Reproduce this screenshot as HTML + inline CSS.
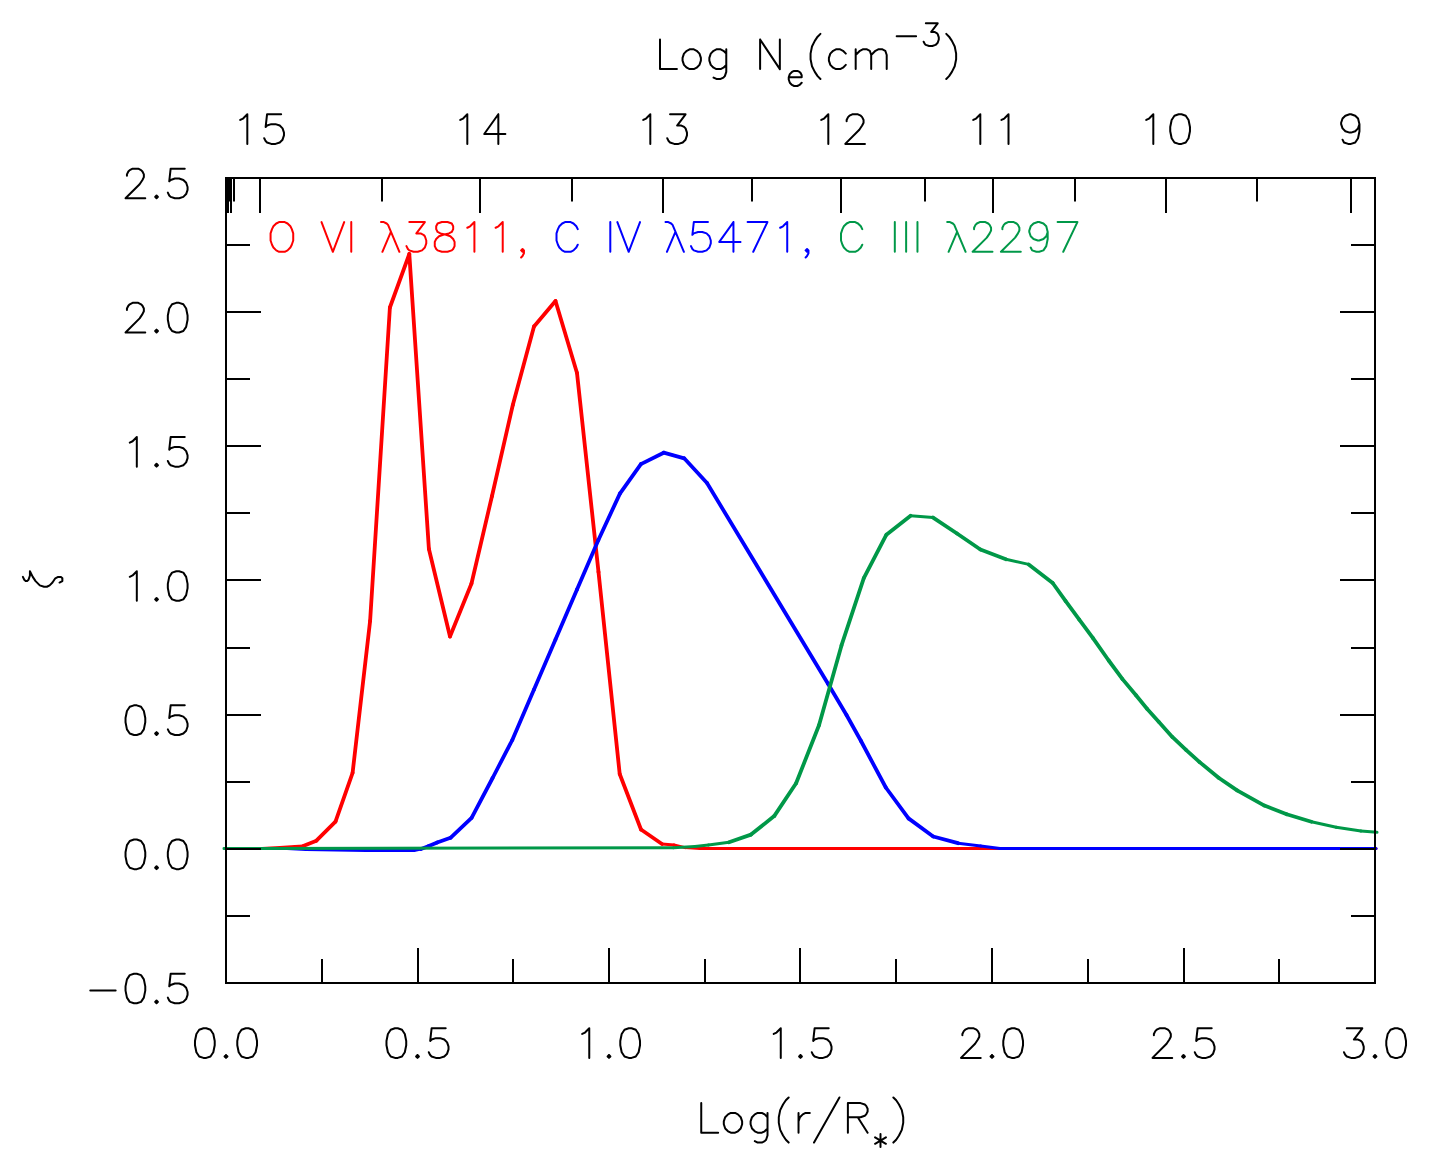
<!DOCTYPE html><html><head><meta charset="utf-8"><style>html,body{margin:0;padding:0;background:#fff;font-family:"Liberation Sans",sans-serif;}svg{display:block}</style></head><body>
<svg width="1454" height="1172" viewBox="0 0 1454 1172">
<rect width="1454" height="1172" fill="#fff"/>
<g stroke="#ff0000" stroke-linecap="round"><line x1="226.00" y1="848.50" x2="262.00" y2="848.50" stroke-width="3.00"/><line x1="262.00" y1="848.50" x2="280.00" y2="847.60" stroke-width="3.00"/><line x1="280.00" y1="847.60" x2="295.00" y2="846.40" stroke-width="3.00"/><line x1="295.00" y1="846.40" x2="303.20" y2="845.90" stroke-width="3.00"/><line x1="303.20" y1="845.90" x2="316.40" y2="840.70" stroke-width="3.80"/><line x1="316.40" y1="840.70" x2="335.50" y2="821.60" stroke-width="3.80"/><line x1="335.50" y1="821.60" x2="352.60" y2="772.80" stroke-width="3.80"/><line x1="352.60" y1="772.80" x2="370.10" y2="621.00" stroke-width="3.80"/><line x1="370.10" y1="621.00" x2="389.90" y2="307.50" stroke-width="3.80"/><line x1="389.90" y1="307.50" x2="409.30" y2="254.00" stroke-width="3.80"/><line x1="409.30" y1="254.00" x2="428.90" y2="549.00" stroke-width="3.80"/><line x1="428.90" y1="549.00" x2="450.00" y2="636.50" stroke-width="3.80"/><line x1="450.00" y1="636.50" x2="471.50" y2="583.50" stroke-width="3.80"/><line x1="471.50" y1="583.50" x2="492.00" y2="496.00" stroke-width="3.80"/><line x1="492.00" y1="496.00" x2="512.80" y2="405.00" stroke-width="3.80"/><line x1="512.80" y1="405.00" x2="534.00" y2="326.50" stroke-width="3.80"/><line x1="534.00" y1="326.50" x2="555.50" y2="301.00" stroke-width="3.80"/><line x1="555.50" y1="301.00" x2="577.00" y2="373.00" stroke-width="3.80"/><line x1="577.00" y1="373.00" x2="598.50" y2="572.00" stroke-width="3.80"/><line x1="598.50" y1="572.00" x2="619.70" y2="774.00" stroke-width="3.80"/><line x1="619.70" y1="774.00" x2="641.00" y2="829.50" stroke-width="3.80"/><line x1="641.00" y1="829.50" x2="662.00" y2="844.00" stroke-width="3.80"/><line x1="662.00" y1="844.00" x2="674.00" y2="845.00" stroke-width="3.00"/><line x1="674.00" y1="845.00" x2="685.00" y2="847.60" stroke-width="3.00"/><line x1="685.00" y1="847.60" x2="700.00" y2="848.50" stroke-width="3.00"/><line x1="700.00" y1="848.50" x2="1376.00" y2="848.50" stroke-width="3.00"/></g>
<g stroke="#0000ff" stroke-linecap="round"><line x1="226.00" y1="848.50" x2="287.00" y2="848.50" stroke-width="3.00"/><line x1="287.00" y1="848.50" x2="306.00" y2="849.50" stroke-width="3.00"/><line x1="306.00" y1="849.50" x2="366.00" y2="850.60" stroke-width="3.00"/><line x1="366.00" y1="850.60" x2="414.00" y2="850.60" stroke-width="3.00"/><line x1="414.00" y1="850.60" x2="421.00" y2="849.00" stroke-width="3.00"/><line x1="421.00" y1="849.00" x2="428.30" y2="846.30" stroke-width="3.80"/><line x1="428.30" y1="846.30" x2="437.20" y2="842.50" stroke-width="3.80"/><line x1="437.20" y1="842.50" x2="450.50" y2="837.80" stroke-width="3.80"/><line x1="450.50" y1="837.80" x2="471.60" y2="817.80" stroke-width="3.80"/><line x1="471.60" y1="817.80" x2="492.60" y2="778.00" stroke-width="3.80"/><line x1="492.60" y1="778.00" x2="512.30" y2="740.00" stroke-width="3.80"/><line x1="512.30" y1="740.00" x2="534.00" y2="689.60" stroke-width="3.80"/><line x1="534.00" y1="689.60" x2="555.50" y2="639.50" stroke-width="3.80"/><line x1="555.50" y1="639.50" x2="577.00" y2="589.50" stroke-width="3.80"/><line x1="577.00" y1="589.50" x2="598.40" y2="540.00" stroke-width="3.80"/><line x1="598.40" y1="540.00" x2="619.90" y2="493.60" stroke-width="3.80"/><line x1="619.90" y1="493.60" x2="640.90" y2="464.10" stroke-width="3.80"/><line x1="640.90" y1="464.10" x2="663.70" y2="452.70" stroke-width="3.80"/><line x1="663.70" y1="452.70" x2="684.20" y2="458.30" stroke-width="3.80"/><line x1="684.20" y1="458.30" x2="707.00" y2="483.00" stroke-width="3.80"/><line x1="707.00" y1="483.00" x2="828.00" y2="683.70" stroke-width="3.80"/><line x1="828.00" y1="683.70" x2="846.50" y2="715.00" stroke-width="3.80"/><line x1="846.50" y1="715.00" x2="861.00" y2="741.00" stroke-width="3.80"/><line x1="861.00" y1="741.00" x2="885.80" y2="787.50" stroke-width="3.80"/><line x1="885.80" y1="787.50" x2="908.50" y2="818.40" stroke-width="3.80"/><line x1="908.50" y1="818.40" x2="933.20" y2="836.50" stroke-width="3.80"/><line x1="933.20" y1="836.50" x2="958.00" y2="843.20" stroke-width="3.80"/><line x1="958.00" y1="843.20" x2="980.70" y2="846.00" stroke-width="3.00"/><line x1="980.70" y1="846.00" x2="1000.00" y2="848.50" stroke-width="3.00"/><line x1="1000.00" y1="848.50" x2="1376.00" y2="848.50" stroke-width="3.00"/></g>
<g stroke="#009848" stroke-linecap="round"><line x1="224.00" y1="848.50" x2="673.60" y2="847.80" stroke-width="3.00"/><line x1="673.60" y1="847.80" x2="695.00" y2="846.50" stroke-width="3.00"/><line x1="695.00" y1="846.50" x2="708.50" y2="845.00" stroke-width="3.00"/><line x1="708.50" y1="845.00" x2="729.00" y2="842.30" stroke-width="3.00"/><line x1="729.00" y1="842.30" x2="751.00" y2="834.60" stroke-width="3.80"/><line x1="751.00" y1="834.60" x2="774.20" y2="816.10" stroke-width="3.80"/><line x1="774.20" y1="816.10" x2="796.10" y2="783.30" stroke-width="3.80"/><line x1="796.10" y1="783.30" x2="819.00" y2="725.30" stroke-width="3.80"/><line x1="819.00" y1="725.30" x2="841.50" y2="645.40" stroke-width="3.80"/><line x1="841.50" y1="645.40" x2="863.80" y2="578.10" stroke-width="3.80"/><line x1="863.80" y1="578.10" x2="886.40" y2="534.70" stroke-width="3.80"/><line x1="886.40" y1="534.70" x2="910.60" y2="515.80" stroke-width="3.80"/><line x1="910.60" y1="515.80" x2="933.10" y2="517.60" stroke-width="3.00"/><line x1="933.10" y1="517.60" x2="957.00" y2="533.50" stroke-width="3.80"/><line x1="957.00" y1="533.50" x2="980.40" y2="549.50" stroke-width="3.80"/><line x1="980.40" y1="549.50" x2="1005.90" y2="559.20" stroke-width="3.80"/><line x1="1005.90" y1="559.20" x2="1028.70" y2="564.40" stroke-width="3.00"/><line x1="1028.70" y1="564.40" x2="1052.70" y2="583.00" stroke-width="3.80"/><line x1="1052.70" y1="583.00" x2="1065.50" y2="600.90" stroke-width="3.80"/><line x1="1065.50" y1="600.90" x2="1079.10" y2="619.40" stroke-width="3.80"/><line x1="1079.10" y1="619.40" x2="1092.80" y2="637.80" stroke-width="3.80"/><line x1="1092.80" y1="637.80" x2="1108.70" y2="660.50" stroke-width="3.80"/><line x1="1108.70" y1="660.50" x2="1122.30" y2="678.90" stroke-width="3.80"/><line x1="1122.30" y1="678.90" x2="1136.00" y2="695.30" stroke-width="3.80"/><line x1="1136.00" y1="695.30" x2="1147.00" y2="708.80" stroke-width="3.80"/><line x1="1147.00" y1="708.80" x2="1158.70" y2="721.80" stroke-width="3.80"/><line x1="1158.70" y1="721.80" x2="1172.30" y2="736.90" stroke-width="3.80"/><line x1="1172.30" y1="736.90" x2="1186.00" y2="749.80" stroke-width="3.80"/><line x1="1186.00" y1="749.80" x2="1199.60" y2="762.10" stroke-width="3.80"/><line x1="1199.60" y1="762.10" x2="1218.60" y2="777.80" stroke-width="3.80"/><line x1="1218.60" y1="777.80" x2="1237.10" y2="790.40" stroke-width="3.80"/><line x1="1237.10" y1="790.40" x2="1264.40" y2="805.60" stroke-width="3.80"/><line x1="1264.40" y1="805.60" x2="1286.70" y2="814.30" stroke-width="3.80"/><line x1="1286.70" y1="814.30" x2="1311.40" y2="821.70" stroke-width="3.80"/><line x1="1311.40" y1="821.70" x2="1336.20" y2="827.30" stroke-width="3.00"/><line x1="1336.20" y1="827.30" x2="1360.90" y2="831.00" stroke-width="3.00"/><line x1="1360.90" y1="831.00" x2="1377.00" y2="832.30" stroke-width="3.00"/></g>
<path d="M226.0 178.0 H1375.0 V983.0 H226.0 Z M322 983.0 V959.0 M418 983.0 V948.0 M513 983.0 V959.0 M609 983.0 V948.0 M705 983.0 V959.0 M800 983.0 V948.0 M896 983.0 V959.0 M992 983.0 V948.0 M1088 983.0 V959.0 M1184 983.0 V948.0 M1279 983.0 V959.0 M226.0 916 H250.0 M1375.0 916 H1351.0 M226.0 849 H261.0 M1375.0 849 H1340.0 M226.0 782 H250.0 M1375.0 782 H1351.0 M226.0 715 H261.0 M1375.0 715 H1340.0 M226.0 648 H250.0 M1375.0 648 H1351.0 M226.0 580 H261.0 M1375.0 580 H1340.0 M226.0 513 H250.0 M1375.0 513 H1351.0 M226.0 446 H261.0 M1375.0 446 H1340.0 M226.0 379 H250.0 M1375.0 379 H1351.0 M226.0 312 H261.0 M1375.0 312 H1340.0 M226.0 245 H250.0 M1375.0 245 H1351.0 M260 178.0 V213.0 M480 178.0 V213.0 M663 178.0 V213.0 M841 178.0 V213.0 M993 178.0 V213.0 M1166 178.0 V213.0 M1351 178.0 V213.0 M234 178.0 V201.5 M382 178.0 V201.5 M572 178.0 V201.5 M752 178.0 V201.5 M925 178.0 V201.5 M1075 178.0 V201.5 M1257 178.0 V201.5 M231 178.0 V213.0" fill="none" stroke="#000" stroke-width="2"/>
<rect x="225" y="178" width="4" height="35" fill="#000"/>
<rect x="229" y="178" width="1.5" height="23.5" fill="#000"/>
<path d="M660.00 39.49 L660.00 69.10 M660.00 69.10 L676.92 69.10 M689.61 49.36 L686.79 50.77 L683.97 53.59 L682.56 57.82 L682.56 60.64 L683.97 64.87 L686.79 67.69 L689.61 69.10 L693.84 69.10 L696.66 67.69 L699.48 64.87 L700.89 60.64 L700.89 57.82 L699.48 53.59 L696.66 50.77 L693.84 49.36 L689.61 49.36 M726.27 49.36 L726.27 71.92 L724.86 76.15 L723.45 77.56 L720.63 78.97 L716.40 78.97 L713.58 77.56 M726.27 53.59 L723.45 50.77 L720.63 49.36 L716.40 49.36 L713.58 50.77 L710.76 53.59 L709.35 57.82 L709.35 60.64 L710.76 64.87 L713.58 67.69 L716.40 69.10 L720.63 69.10 L723.45 67.69 L726.27 64.87 M760.11 39.49 L760.11 69.10 M760.11 39.49 L779.85 69.10 M779.85 39.49 L779.85 69.10 M788.73 77.36 L801.69 77.36 L801.69 75.20 L800.61 73.04 L799.53 71.96 L797.37 70.88 L794.13 70.88 L791.97 71.96 L789.81 74.12 L788.73 77.36 L788.73 79.52 L789.81 82.76 L791.97 84.92 L794.13 86.00 L797.37 86.00 L799.53 84.92 L801.69 82.76 M820.44 33.85 L817.62 36.67 L814.80 40.90 L811.98 46.54 L810.57 53.59 L810.57 59.23 L811.98 66.28 L814.80 71.92 L817.62 76.15 L820.44 78.97 M845.82 53.59 L843.00 50.77 L840.18 49.36 L835.95 49.36 L833.13 50.77 L830.31 53.59 L828.90 57.82 L828.90 60.64 L830.31 64.87 L833.13 67.69 L835.95 69.10 L840.18 69.10 L843.00 67.69 L845.82 64.87 M855.69 49.36 L855.69 69.10 M855.69 55.00 L859.92 50.77 L862.74 49.36 L866.97 49.36 L869.79 50.77 L871.20 55.00 L871.20 69.10 M871.20 55.00 L875.43 50.77 L878.25 49.36 L882.48 49.36 L885.30 50.77 L886.71 55.00 L886.71 69.10 M896.67 36.28 L916.11 36.28 M925.83 23.32 L937.71 23.32 L931.23 31.96 L934.47 31.96 L936.63 33.04 L937.71 34.12 L938.79 37.36 L938.79 39.52 L937.71 42.76 L935.55 44.92 L932.31 46.00 L929.07 46.00 L925.83 44.92 L924.75 43.84 L923.67 41.68 M946.26 33.85 L949.08 36.67 L951.90 40.90 L954.72 46.54 L956.13 53.59 L956.13 59.23 L954.72 66.28 L951.90 71.92 L949.08 76.15 L946.26 78.97" fill="none" stroke="#000" stroke-width="2.00" stroke-linecap="round" stroke-linejoin="round"/>
<path d="M240.26 119.93 L243.08 118.52 L247.31 114.29 L247.31 143.90 M281.15 114.29 L267.05 114.29 L265.64 126.98 L267.05 125.57 L271.28 124.16 L275.51 124.16 L279.74 125.57 L282.56 128.39 L283.97 132.62 L283.97 135.44 L282.56 139.67 L279.74 142.49 L275.51 143.90 L271.28 143.90 L267.05 142.49 L265.64 141.08 L264.23 138.26" fill="none" stroke="#000" stroke-width="2.00" stroke-linecap="round" stroke-linejoin="round"/>
<path d="M460.26 119.93 L463.08 118.52 L467.31 114.29 L467.31 143.90 M498.33 114.29 L484.23 134.03 L505.38 134.03 M498.33 114.29 L498.33 143.90" fill="none" stroke="#000" stroke-width="2.00" stroke-linecap="round" stroke-linejoin="round"/>
<path d="M643.26 119.93 L646.08 118.52 L650.31 114.29 L650.31 143.90 M670.05 114.29 L685.56 114.29 L677.10 125.57 L681.33 125.57 L684.15 126.98 L685.56 128.39 L686.97 132.62 L686.97 135.44 L685.56 139.67 L682.74 142.49 L678.51 143.90 L674.28 143.90 L670.05 142.49 L668.64 141.08 L667.23 138.26" fill="none" stroke="#000" stroke-width="2.00" stroke-linecap="round" stroke-linejoin="round"/>
<path d="M821.26 119.93 L824.08 118.52 L828.31 114.29 L828.31 143.90 M846.64 121.34 L846.64 119.93 L848.05 117.11 L849.46 115.70 L852.28 114.29 L857.92 114.29 L860.74 115.70 L862.15 117.11 L863.56 119.93 L863.56 122.75 L862.15 125.57 L859.33 129.80 L845.23 143.90 L864.97 143.90" fill="none" stroke="#000" stroke-width="2.00" stroke-linecap="round" stroke-linejoin="round"/>
<path d="M973.26 119.93 L976.08 118.52 L980.31 114.29 L980.31 143.90 M1001.46 119.93 L1004.28 118.52 L1008.51 114.29 L1008.51 143.90" fill="none" stroke="#000" stroke-width="2.00" stroke-linecap="round" stroke-linejoin="round"/>
<path d="M1146.26 119.93 L1149.08 118.52 L1153.31 114.29 L1153.31 143.90 M1178.69 114.29 L1174.46 115.70 L1171.64 119.93 L1170.23 126.98 L1170.23 131.21 L1171.64 138.26 L1174.46 142.49 L1178.69 143.90 L1181.51 143.90 L1185.74 142.49 L1188.56 138.26 L1189.97 131.21 L1189.97 126.98 L1188.56 119.93 L1185.74 115.70 L1181.51 114.29 L1178.69 114.29" fill="none" stroke="#000" stroke-width="2.00" stroke-linecap="round" stroke-linejoin="round"/>
<path d="M1359.46 124.16 L1358.05 128.39 L1355.23 131.21 L1351.00 132.62 L1349.59 132.62 L1345.36 131.21 L1342.54 128.39 L1341.13 124.16 L1341.13 122.75 L1342.54 118.52 L1345.36 115.70 L1349.59 114.29 L1351.00 114.29 L1355.23 115.70 L1358.05 118.52 L1359.46 124.16 L1359.46 131.21 L1358.05 138.26 L1355.23 142.49 L1351.00 143.90 L1348.18 143.90 L1343.95 142.49 L1342.54 139.67" fill="none" stroke="#000" stroke-width="2.00" stroke-linecap="round" stroke-linejoin="round"/>
<path d="M126.94 175.74 L126.94 174.33 L128.35 171.51 L129.76 170.10 L132.58 168.69 L138.22 168.69 L141.04 170.10 L142.45 171.51 L143.86 174.33 L143.86 177.15 L142.45 179.97 L139.63 184.20 L125.53 198.30 L145.27 198.30 M156.55 195.48 L155.14 196.89 L156.55 198.30 L157.96 196.89 L156.55 195.48 M184.75 168.69 L170.65 168.69 L169.24 181.38 L170.65 179.97 L174.88 178.56 L179.11 178.56 L183.34 179.97 L186.16 182.79 L187.57 187.02 L187.57 189.84 L186.16 194.07 L183.34 196.89 L179.11 198.30 L174.88 198.30 L170.65 196.89 L169.24 195.48 L167.83 192.66" fill="none" stroke="#000" stroke-width="2.00" stroke-linecap="round" stroke-linejoin="round"/>
<path d="M126.94 309.91 L126.94 308.50 L128.35 305.68 L129.76 304.27 L132.58 302.86 L138.22 302.86 L141.04 304.27 L142.45 305.68 L143.86 308.50 L143.86 311.32 L142.45 314.14 L139.63 318.37 L125.53 332.47 L145.27 332.47 M156.55 329.65 L155.14 331.06 L156.55 332.47 L157.96 331.06 L156.55 329.65 M176.29 302.86 L172.06 304.27 L169.24 308.50 L167.83 315.55 L167.83 319.78 L169.24 326.83 L172.06 331.06 L176.29 332.47 L179.11 332.47 L183.34 331.06 L186.16 326.83 L187.57 319.78 L187.57 315.55 L186.16 308.50 L183.34 304.27 L179.11 302.86 L176.29 302.86" fill="none" stroke="#000" stroke-width="2.00" stroke-linecap="round" stroke-linejoin="round"/>
<path d="M129.76 442.66 L132.58 441.25 L136.81 437.02 L136.81 466.63 M156.55 463.81 L155.14 465.22 L156.55 466.63 L157.96 465.22 L156.55 463.81 M184.75 437.02 L170.65 437.02 L169.24 449.71 L170.65 448.30 L174.88 446.89 L179.11 446.89 L183.34 448.30 L186.16 451.12 L187.57 455.35 L187.57 458.17 L186.16 462.40 L183.34 465.22 L179.11 466.63 L174.88 466.63 L170.65 465.22 L169.24 463.81 L167.83 460.99" fill="none" stroke="#000" stroke-width="2.00" stroke-linecap="round" stroke-linejoin="round"/>
<path d="M129.76 576.83 L132.58 575.42 L136.81 571.19 L136.81 600.80 M156.55 597.98 L155.14 599.39 L156.55 600.80 L157.96 599.39 L156.55 597.98 M176.29 571.19 L172.06 572.60 L169.24 576.83 L167.83 583.88 L167.83 588.11 L169.24 595.16 L172.06 599.39 L176.29 600.80 L179.11 600.80 L183.34 599.39 L186.16 595.16 L187.57 588.11 L187.57 583.88 L186.16 576.83 L183.34 572.60 L179.11 571.19 L176.29 571.19" fill="none" stroke="#000" stroke-width="2.00" stroke-linecap="round" stroke-linejoin="round"/>
<path d="M133.99 705.36 L129.76 706.77 L126.94 711.00 L125.53 718.05 L125.53 722.28 L126.94 729.33 L129.76 733.56 L133.99 734.97 L136.81 734.97 L141.04 733.56 L143.86 729.33 L145.27 722.28 L145.27 718.05 L143.86 711.00 L141.04 706.77 L136.81 705.36 L133.99 705.36 M156.55 732.15 L155.14 733.56 L156.55 734.97 L157.96 733.56 L156.55 732.15 M184.75 705.36 L170.65 705.36 L169.24 718.05 L170.65 716.64 L174.88 715.23 L179.11 715.23 L183.34 716.64 L186.16 719.46 L187.57 723.69 L187.57 726.51 L186.16 730.74 L183.34 733.56 L179.11 734.97 L174.88 734.97 L170.65 733.56 L169.24 732.15 L167.83 729.33" fill="none" stroke="#000" stroke-width="2.00" stroke-linecap="round" stroke-linejoin="round"/>
<path d="M133.99 839.52 L129.76 840.93 L126.94 845.16 L125.53 852.21 L125.53 856.44 L126.94 863.49 L129.76 867.72 L133.99 869.13 L136.81 869.13 L141.04 867.72 L143.86 863.49 L145.27 856.44 L145.27 852.21 L143.86 845.16 L141.04 840.93 L136.81 839.52 L133.99 839.52 M156.55 866.31 L155.14 867.72 L156.55 869.13 L157.96 867.72 L156.55 866.31 M176.29 839.52 L172.06 840.93 L169.24 845.16 L167.83 852.21 L167.83 856.44 L169.24 863.49 L172.06 867.72 L176.29 869.13 L179.11 869.13 L183.34 867.72 L186.16 863.49 L187.57 856.44 L187.57 852.21 L186.16 845.16 L183.34 840.93 L179.11 839.52 L176.29 839.52" fill="none" stroke="#000" stroke-width="2.00" stroke-linecap="round" stroke-linejoin="round"/>
<path d="M90.28 990.61 L115.66 990.61 M133.99 973.69 L129.76 975.10 L126.94 979.33 L125.53 986.38 L125.53 990.61 L126.94 997.66 L129.76 1001.89 L133.99 1003.30 L136.81 1003.30 L141.04 1001.89 L143.86 997.66 L145.27 990.61 L145.27 986.38 L143.86 979.33 L141.04 975.10 L136.81 973.69 L133.99 973.69 M156.55 1000.48 L155.14 1001.89 L156.55 1003.30 L157.96 1001.89 L156.55 1000.48 M184.75 973.69 L170.65 973.69 L169.24 986.38 L170.65 984.97 L174.88 983.56 L179.11 983.56 L183.34 984.97 L186.16 987.79 L187.57 992.02 L187.57 994.84 L186.16 999.07 L183.34 1001.89 L179.11 1003.30 L174.88 1003.30 L170.65 1001.89 L169.24 1000.48 L167.83 997.66" fill="none" stroke="#000" stroke-width="2.00" stroke-linecap="round" stroke-linejoin="round"/>
<path d="M203.44 1028.29 L199.21 1029.70 L196.39 1033.93 L194.98 1040.98 L194.98 1045.21 L196.39 1052.26 L199.21 1056.49 L203.44 1057.90 L206.26 1057.90 L210.49 1056.49 L213.31 1052.26 L214.72 1045.21 L214.72 1040.98 L213.31 1033.93 L210.49 1029.70 L206.26 1028.29 L203.44 1028.29 M226.00 1055.08 L224.59 1056.49 L226.00 1057.90 L227.41 1056.49 L226.00 1055.08 M245.74 1028.29 L241.51 1029.70 L238.69 1033.93 L237.28 1040.98 L237.28 1045.21 L238.69 1052.26 L241.51 1056.49 L245.74 1057.90 L248.56 1057.90 L252.79 1056.49 L255.61 1052.26 L257.02 1045.21 L257.02 1040.98 L255.61 1033.93 L252.79 1029.70 L248.56 1028.29 L245.74 1028.29" fill="none" stroke="#000" stroke-width="2.00" stroke-linecap="round" stroke-linejoin="round"/>
<path d="M394.94 1028.29 L390.71 1029.70 L387.89 1033.93 L386.48 1040.98 L386.48 1045.21 L387.89 1052.26 L390.71 1056.49 L394.94 1057.90 L397.76 1057.90 L401.99 1056.49 L404.81 1052.26 L406.22 1045.21 L406.22 1040.98 L404.81 1033.93 L401.99 1029.70 L397.76 1028.29 L394.94 1028.29 M417.50 1055.08 L416.09 1056.49 L417.50 1057.90 L418.91 1056.49 L417.50 1055.08 M445.70 1028.29 L431.60 1028.29 L430.19 1040.98 L431.60 1039.57 L435.83 1038.16 L440.06 1038.16 L444.29 1039.57 L447.11 1042.39 L448.52 1046.62 L448.52 1049.44 L447.11 1053.67 L444.29 1056.49 L440.06 1057.90 L435.83 1057.90 L431.60 1056.49 L430.19 1055.08 L428.78 1052.26" fill="none" stroke="#000" stroke-width="2.00" stroke-linecap="round" stroke-linejoin="round"/>
<path d="M582.21 1033.93 L585.03 1032.52 L589.26 1028.29 L589.26 1057.90 M609.00 1055.08 L607.59 1056.49 L609.00 1057.90 L610.41 1056.49 L609.00 1055.08 M628.74 1028.29 L624.51 1029.70 L621.69 1033.93 L620.28 1040.98 L620.28 1045.21 L621.69 1052.26 L624.51 1056.49 L628.74 1057.90 L631.56 1057.90 L635.79 1056.49 L638.61 1052.26 L640.02 1045.21 L640.02 1040.98 L638.61 1033.93 L635.79 1029.70 L631.56 1028.29 L628.74 1028.29" fill="none" stroke="#000" stroke-width="2.00" stroke-linecap="round" stroke-linejoin="round"/>
<path d="M773.71 1033.93 L776.53 1032.52 L780.76 1028.29 L780.76 1057.90 M800.50 1055.08 L799.09 1056.49 L800.50 1057.90 L801.91 1056.49 L800.50 1055.08 M828.70 1028.29 L814.60 1028.29 L813.19 1040.98 L814.60 1039.57 L818.83 1038.16 L823.06 1038.16 L827.29 1039.57 L830.11 1042.39 L831.52 1046.62 L831.52 1049.44 L830.11 1053.67 L827.29 1056.49 L823.06 1057.90 L818.83 1057.90 L814.60 1056.49 L813.19 1055.08 L811.78 1052.26" fill="none" stroke="#000" stroke-width="2.00" stroke-linecap="round" stroke-linejoin="round"/>
<path d="M962.39 1035.34 L962.39 1033.93 L963.80 1031.11 L965.21 1029.70 L968.03 1028.29 L973.67 1028.29 L976.49 1029.70 L977.90 1031.11 L979.31 1033.93 L979.31 1036.75 L977.90 1039.57 L975.08 1043.80 L960.98 1057.90 L980.72 1057.90 M992.00 1055.08 L990.59 1056.49 L992.00 1057.90 L993.41 1056.49 L992.00 1055.08 M1011.74 1028.29 L1007.51 1029.70 L1004.69 1033.93 L1003.28 1040.98 L1003.28 1045.21 L1004.69 1052.26 L1007.51 1056.49 L1011.74 1057.90 L1014.56 1057.90 L1018.79 1056.49 L1021.61 1052.26 L1023.02 1045.21 L1023.02 1040.98 L1021.61 1033.93 L1018.79 1029.70 L1014.56 1028.29 L1011.74 1028.29" fill="none" stroke="#000" stroke-width="2.00" stroke-linecap="round" stroke-linejoin="round"/>
<path d="M1153.89 1035.34 L1153.89 1033.93 L1155.30 1031.11 L1156.71 1029.70 L1159.53 1028.29 L1165.17 1028.29 L1167.99 1029.70 L1169.40 1031.11 L1170.81 1033.93 L1170.81 1036.75 L1169.40 1039.57 L1166.58 1043.80 L1152.48 1057.90 L1172.22 1057.90 M1183.50 1055.08 L1182.09 1056.49 L1183.50 1057.90 L1184.91 1056.49 L1183.50 1055.08 M1211.70 1028.29 L1197.60 1028.29 L1196.19 1040.98 L1197.60 1039.57 L1201.83 1038.16 L1206.06 1038.16 L1210.29 1039.57 L1213.11 1042.39 L1214.52 1046.62 L1214.52 1049.44 L1213.11 1053.67 L1210.29 1056.49 L1206.06 1057.90 L1201.83 1057.90 L1197.60 1056.49 L1196.19 1055.08 L1194.78 1052.26" fill="none" stroke="#000" stroke-width="2.00" stroke-linecap="round" stroke-linejoin="round"/>
<path d="M1346.80 1028.29 L1362.31 1028.29 L1353.85 1039.57 L1358.08 1039.57 L1360.90 1040.98 L1362.31 1042.39 L1363.72 1046.62 L1363.72 1049.44 L1362.31 1053.67 L1359.49 1056.49 L1355.26 1057.90 L1351.03 1057.90 L1346.80 1056.49 L1345.39 1055.08 L1343.98 1052.26 M1375.00 1055.08 L1373.59 1056.49 L1375.00 1057.90 L1376.41 1056.49 L1375.00 1055.08 M1394.74 1028.29 L1390.51 1029.70 L1387.69 1033.93 L1386.28 1040.98 L1386.28 1045.21 L1387.69 1052.26 L1390.51 1056.49 L1394.74 1057.90 L1397.56 1057.90 L1401.79 1056.49 L1404.61 1052.26 L1406.02 1045.21 L1406.02 1040.98 L1404.61 1033.93 L1401.79 1029.70 L1397.56 1028.29 L1394.74 1028.29" fill="none" stroke="#000" stroke-width="2.00" stroke-linecap="round" stroke-linejoin="round"/>
<path d="M701.24 1103.09 L701.24 1132.70 M701.24 1132.70 L718.16 1132.70 M730.85 1112.96 L728.03 1114.37 L725.21 1117.19 L723.80 1121.42 L723.80 1124.24 L725.21 1128.47 L728.03 1131.29 L730.85 1132.70 L735.08 1132.70 L737.90 1131.29 L740.72 1128.47 L742.13 1124.24 L742.13 1121.42 L740.72 1117.19 L737.90 1114.37 L735.08 1112.96 L730.85 1112.96 M767.51 1112.96 L767.51 1135.52 L766.10 1139.75 L764.69 1141.16 L761.87 1142.57 L757.64 1142.57 L754.82 1141.16 M767.51 1117.19 L764.69 1114.37 L761.87 1112.96 L757.64 1112.96 L754.82 1114.37 L752.00 1117.19 L750.59 1121.42 L750.59 1124.24 L752.00 1128.47 L754.82 1131.29 L757.64 1132.70 L761.87 1132.70 L764.69 1131.29 L767.51 1128.47 M788.66 1097.45 L785.84 1100.27 L783.02 1104.50 L780.20 1110.14 L778.79 1117.19 L778.79 1122.83 L780.20 1129.88 L783.02 1135.52 L785.84 1139.75 L788.66 1142.57 M798.53 1112.96 L798.53 1132.70 M798.53 1121.42 L799.94 1117.19 L802.76 1114.37 L805.58 1112.96 L809.81 1112.96 M839.42 1097.45 L814.04 1142.57 M847.88 1103.09 L847.88 1132.70 M847.88 1103.09 L860.57 1103.09 L864.80 1104.50 L866.21 1105.91 L867.62 1108.73 L867.62 1111.55 L866.21 1114.37 L864.80 1115.78 L860.57 1117.19 L847.88 1117.19 M857.75 1117.19 L867.62 1132.70 M880.49 1134.10 L880.49 1147.06 M875.09 1137.34 L885.89 1143.82 M885.89 1137.34 L875.09 1143.82 M893.36 1097.45 L896.18 1100.27 L899.00 1104.50 L901.82 1110.14 L903.23 1117.19 L903.23 1122.83 L901.82 1129.88 L899.00 1135.52 L896.18 1139.75 L893.36 1142.57" fill="none" stroke="#000" stroke-width="2.00" stroke-linecap="round" stroke-linejoin="round"/>
<g transform="translate(39.8 579.7) rotate(-90)">
<path d="M2.82 -16.92 L0.00 -15.51 L-1.41 -14.10 L-1.41 -12.69 L0.00 -11.28 L4.23 -9.87 L8.46 -9.87 M8.46 -9.87 L2.82 -7.05 L-1.41 -4.23 L-5.64 0.00 L-7.05 4.23 L-7.05 7.05 L-5.64 9.87 L-2.82 12.69 L1.41 15.51 L2.82 18.33 L2.82 21.15 L1.41 22.56 L-1.41 22.56 L-2.82 19.74" fill="none" stroke="#000" stroke-width="2.00" stroke-linecap="round" stroke-linejoin="round"/>
</g>
<path d="M279.07 222.07 L276.24 223.49 L273.41 226.32 L271.99 229.15 L270.58 233.40 L270.58 240.48 L271.99 244.72 L273.41 247.55 L276.24 250.38 L279.07 251.80 L284.73 251.80 L287.56 250.38 L290.39 247.55 L291.81 244.72 L293.22 240.48 L293.22 233.40 L291.81 229.15 L290.39 226.32 L287.56 223.49 L284.73 222.07 L279.07 222.07 M321.53 222.07 L332.86 251.80 M344.18 222.07 L332.86 251.80 M351.26 222.07 L351.26 251.80 M380.99 222.07 L383.82 222.07 L386.65 223.49 L388.06 224.91 L399.39 251.80 M390.89 231.98 L382.40 251.80 M409.30 222.07 L424.87 222.07 L416.37 233.40 L420.62 233.40 L423.45 234.81 L424.87 236.23 L426.28 240.48 L426.28 243.31 L424.87 247.55 L422.03 250.38 L417.79 251.80 L413.54 251.80 L409.30 250.38 L407.88 248.97 L406.46 246.14 M441.85 222.07 L437.61 223.49 L436.19 226.32 L436.19 229.15 L437.61 231.98 L440.44 233.40 L446.10 234.81 L450.34 236.23 L453.18 239.06 L454.59 241.89 L454.59 246.14 L453.18 248.97 L451.76 250.38 L447.51 251.80 L441.85 251.80 L437.61 250.38 L436.19 248.97 L434.77 246.14 L434.77 241.89 L436.19 239.06 L439.02 236.23 L443.27 234.81 L448.93 233.40 L451.76 231.98 L453.18 229.15 L453.18 226.32 L451.76 223.49 L447.51 222.07 L441.85 222.07 M467.33 227.74 L470.16 226.32 L474.41 222.07 L474.41 251.80 M495.64 227.74 L498.47 226.32 L502.72 222.07 L502.72 251.80 M523.95 250.38 L522.54 251.80 L521.12 250.38 L522.54 248.97 L523.95 250.38 L523.95 253.22 L522.54 256.05 L521.12 257.46" fill="none" stroke="#ff0000" stroke-width="2.00" stroke-linecap="round" stroke-linejoin="round"/>
<path d="M577.74 229.15 L576.32 226.32 L573.49 223.49 L570.66 222.07 L565.00 222.07 L562.17 223.49 L559.34 226.32 L557.92 229.15 L556.51 233.40 L556.51 240.48 L557.92 244.72 L559.34 247.55 L562.17 250.38 L565.00 251.80 L570.66 251.80 L573.49 250.38 L576.32 247.55 L577.74 244.72 M610.30 222.07 L610.30 251.80 M617.37 222.07 L628.70 251.80 M640.02 222.07 L628.70 251.80 M665.50 222.07 L668.33 222.07 L671.16 223.49 L672.58 224.91 L683.90 251.80 M675.41 231.98 L666.92 251.80 M707.97 222.07 L693.81 222.07 L692.40 234.81 L693.81 233.40 L698.06 231.98 L702.30 231.98 L706.55 233.40 L709.38 236.23 L710.80 240.48 L710.80 243.31 L709.38 247.55 L706.55 250.38 L702.30 251.80 L698.06 251.80 L693.81 250.38 L692.40 248.97 L690.98 246.14 M733.44 222.07 L719.29 241.89 L740.52 241.89 M733.44 222.07 L733.44 251.80 M767.42 222.07 L753.26 251.80 M747.60 222.07 L767.42 222.07 M780.16 227.74 L782.99 226.32 L787.23 222.07 L787.23 251.80 M808.47 250.38 L807.05 251.80 L805.63 250.38 L807.05 248.97 L808.47 250.38 L808.47 253.22 L807.05 256.05 L805.63 257.46" fill="none" stroke="#0000ff" stroke-width="2.00" stroke-linecap="round" stroke-linejoin="round"/>
<path d="M862.25 229.15 L860.84 226.32 L858.01 223.49 L855.18 222.07 L849.52 222.07 L846.68 223.49 L843.85 226.32 L842.44 229.15 L841.02 233.40 L841.02 240.48 L842.44 244.72 L843.85 247.55 L846.68 250.38 L849.52 251.80 L855.18 251.80 L858.01 250.38 L860.84 247.55 L862.25 244.72 M894.81 222.07 L894.81 251.80 M906.14 222.07 L906.14 251.80 M917.46 222.07 L917.46 251.80 M947.18 222.07 L950.02 222.07 L952.85 223.49 L954.26 224.91 L965.59 251.80 M957.09 231.98 L948.60 251.80 M974.08 229.15 L974.08 227.74 L975.49 224.91 L976.91 223.49 L979.74 222.07 L985.40 222.07 L988.23 223.49 L989.65 224.91 L991.07 227.74 L991.07 230.57 L989.65 233.40 L986.82 237.65 L972.66 251.80 L992.48 251.80 M1002.39 229.15 L1002.39 227.74 L1003.80 224.91 L1005.22 223.49 L1008.05 222.07 L1013.71 222.07 L1016.54 223.49 L1017.96 224.91 L1019.38 227.74 L1019.38 230.57 L1017.96 233.40 L1015.13 237.65 L1000.97 251.80 L1020.79 251.80 M1047.69 231.98 L1046.27 236.23 L1043.44 239.06 L1039.19 240.48 L1037.78 240.48 L1033.53 239.06 L1030.70 236.23 L1029.28 231.98 L1029.28 230.57 L1030.70 226.32 L1033.53 223.49 L1037.78 222.07 L1039.19 222.07 L1043.44 223.49 L1046.27 226.32 L1047.69 231.98 L1047.69 239.06 L1046.27 246.14 L1043.44 250.38 L1039.19 251.80 L1036.36 251.80 L1032.11 250.38 L1030.70 247.55 M1077.41 222.07 L1063.26 251.80 M1057.59 222.07 L1077.41 222.07" fill="none" stroke="#009848" stroke-width="2.00" stroke-linecap="round" stroke-linejoin="round"/>
</svg></body></html>
